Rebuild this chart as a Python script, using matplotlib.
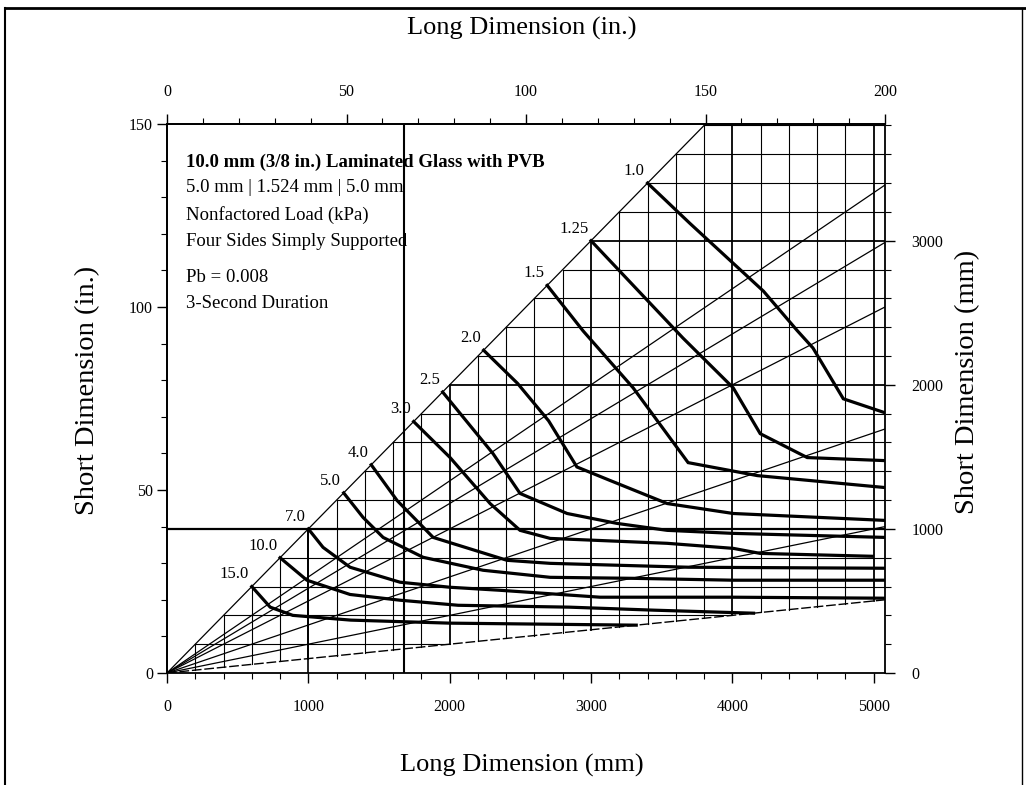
import matplotlib.pyplot as plt
import numpy as np

plt.rcParams['font.family'] = ['Liberation Serif', 'DejaVu Serif']

# load curves (kPa): long dimension (mm), short dimension (mm)
loads = ['1.0', '1.25', '1.5', '2.0', '2.5', '3.0', '4.0', '5.0', '7.0', '10.0', '15.0']

c1_0_x = [3400, 3700, 4220, 4460, 4570, 4785, 5080]
c1_0_y = [3400, 3120, 2650, 2375, 2256, 1903, 1806]
c1_25_x = [3000, 3650, 4006, 4197, 4530, 5080]
c1_25_y = [3000, 2325, 1979, 1661, 1495, 1474]
c1_5_x = [2690, 2944, 3298, 3687, 4176, 5080]
c1_5_y = [2690, 2374, 1979, 1460, 1370, 1287]
c2_0_x = [2240, 2480, 2700, 2900, 3135, 3539, 4006, 5080]
c2_0_y = [2240, 2010, 1750, 1430, 1336, 1176, 1107, 1059]
c2_5_x = [1950, 2307, 2498, 2831, 3185, 3539, 4006, 5080]
c2_5_y = [1950, 1522, 1246, 1107, 1038, 990, 969, 941]
c3_0_x = [1745, 2003, 2286, 2498, 2711, 3539, 4006, 4197, 4713, 4990]
c3_0_y = [1745, 1495, 1176, 990, 934, 900, 865, 830, 817, 810]
c4_0_x = [1445, 1628, 1883, 2406, 2711, 3689, 5080]
c4_0_y = [1445, 1197, 941, 782, 761, 734, 727]
c5_0_x = [1250, 1387, 1529, 1812, 2236, 2711, 3298, 4006, 5080]
c5_0_y = [1250, 1080, 941, 803, 713, 664, 657, 644, 644]
c7_0_x = [1000, 1104, 1295, 1649, 2003, 2357, 3064, 4006, 5080]
c7_0_y = [1000, 872, 734, 630, 595, 574, 526, 526, 519]
c10_0_x = [800, 990, 1295, 1650, 2060, 2845, 3447, 4150]
c10_0_y = [800, 644, 545, 505, 470, 457, 436, 415]
c15_0_x = [600, 730, 890, 1300, 2000, 3320]
c15_0_y = [600, 457, 400, 367, 346, 332]

curves_x = [c1_0_x, c1_25_x, c1_5_x, c2_0_x, c2_5_x, c3_0_x, c4_0_x, c5_0_x, c7_0_x, c10_0_x, c15_0_x]
curves_y = [c1_0_y, c1_25_y, c1_5_y, c2_0_y, c2_5_y, c3_0_y, c4_0_y, c5_0_y, c7_0_y, c10_0_y, c15_0_y]

# aspect ratio lines (long / short)
aspect_ratios = [1.5, 1.7, 2.0, 3.0, 5.0]
aspect_limit = 10.0

XMAX = 5080
YMAX = 3810

fig = plt.figure(figsize=(10.26, 7.85), dpi=100)
ax = fig.add_axes([167/1026, 1-673/785, (885-167)/1026, (673-124)/785])
ax.set_xlim(0, XMAX)
ax.set_ylim(0, YMAX)

# grid between the 1:1 line and the 10:1 line
for gx in range(200, XMAX, 200):
    lw = 1.3 if gx % 1000 == 0 else 0.8
    ax.plot([gx, gx], [gx/aspect_limit, min(gx, YMAX)], color='black', lw=lw)
for gy in range(200, YMAX, 200):
    lw = 1.3 if gy % 1000 == 0 else 0.8
    ax.plot([gy, min(gy*aspect_limit, XMAX)], [gy, gy], color='black', lw=lw)

# aspect ratio lines
ax.plot([0, YMAX], [0, YMAX], color='black', lw=0.9)
for r in aspect_ratios:
    ax.plot([0, XMAX], [0, XMAX/r], color='black', lw=0.9)
ax.plot([0, XMAX], [0, XMAX/aspect_limit], color='black', lw=1.0, dashes=(7, 2))

# marked size lines
ax.plot([0, XMAX], [1000, 1000], color='black', lw=1.6)
ax.plot([1676, 1676], [0, YMAX], color='black', lw=1.5)
ax.plot([1000, 1000], [0, 1000], color='black', lw=1.2)

# load curves
for lab, cx, cy in zip(loads, curves_x, curves_y):
    ax.plot(cx, cy, color='black', lw=2.3, solid_joinstyle='miter')
    ax.annotate(lab, xy=(cx[0], cy[0]), xytext=(-2, 3), textcoords='offset points',
                ha='right', va='bottom', fontsize=12)

for s in ax.spines.values():
    s.set_linewidth(1.3)

# mm axes: bottom and right
ax.set_xticks(range(0, 5001, 1000))
ax.set_xticks(range(0, XMAX, 200), minor=True)
ax.yaxis.tick_right()
ax.set_yticks(range(0, 3001, 1000))
ax.set_yticks(range(0, YMAX, 200), minor=True)
ax.tick_params(which='major', length=7, width=1.0, labelsize=11.5, pad=12)
ax.tick_params(which='minor', length=4, width=0.8)

# inch axes: top and left
sec_x = ax.secondary_xaxis('top', functions=(lambda v: v/25.4, lambda v: v*25.4))
sec_x.set_xticks([0, 50, 100, 150, 200])
sec_x.set_xticks(range(0, 201, 10), minor=True)
sec_x.tick_params(which='major', length=7, width=1.0, labelsize=11.5, pad=10)
sec_x.tick_params(which='minor', length=4, width=0.8)
sec_y = ax.secondary_yaxis('left', functions=(lambda v: v/25.4, lambda v: v*25.4))
sec_y.set_yticks([0, 50, 100, 150])
sec_y.set_yticks(range(0, 151, 10), minor=True)
sec_y.tick_params(which='major', length=7, width=1.0, labelsize=11.5, pad=3)
sec_y.tick_params(which='minor', length=4, width=0.8)
for s in list(sec_x.spines.values()) + list(sec_y.spines.values()):
    s.set_linewidth(1.3)

# axis titles
fig.text(522/1026, 1-28/785, 'Long Dimension (in.)', ha='center', va='center', fontsize=19)
fig.text(522/1026, 1-765/785, 'Long Dimension (mm)', ha='center', va='center', fontsize=19)
fig.text(88/1026, 1-390/785, 'Short Dimension (in.)', ha='center', va='center', fontsize=20.5, rotation=90)
fig.text(968/1026, 1-382/785, 'Short Dimension (mm)', ha='center', va='center', fontsize=20.5, rotation=90)

# description block (drawn under the chart lines)
info_lines = ['10.0 mm (3/8 in.) Laminated Glass with PVB', '5.0 mm | 1.524 mm | 5.0 mm',
              'Nonfactored Load (kPa)', 'Four Sides Simply Supported', 'Pb = 0.008', '3-Second Duration']
info_y = [162, 188, 215, 242, 278, 303]
for i, (t, yy) in enumerate(zip(info_lines, info_y)):
    ax.text(186/1026, 1-yy/785, t, transform=fig.transFigure, ha='left', va='center',
            fontsize=13.5, fontweight='bold' if i == 0 else 'normal', zorder=1)

# page frame
fig.add_artist(plt.Line2D([5/1026, 5/1026], [0, 1-8/785], color='black', lw=1.5))
fig.add_artist(plt.Line2D([5/1026, 1], [1-8/785, 1-8/785], color='black', lw=2))
fig.add_artist(plt.Line2D([1022/1026, 1022/1026], [0, 1-8/785], color='black', lw=1.0))

fig.savefig('out.png', dpi=100)
